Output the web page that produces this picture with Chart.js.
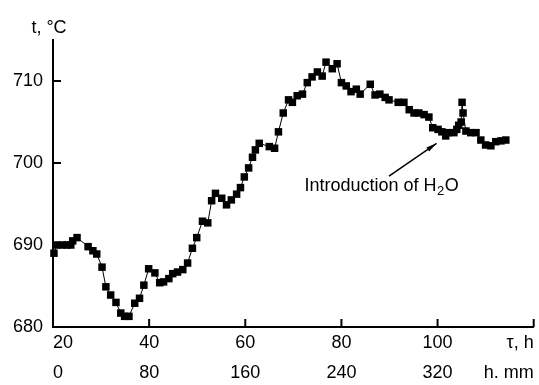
<!DOCTYPE html>
<html lang="en">
<head>
  <meta charset="UTF-8">
  <title>Temperature vs time</title>
  <script src="https://cdn.jsdelivr.net/npm/chart.js"></script>
  <style>
    html, body { margin: 0; padding: 0; background: #fff; }
  </style>
</head>
<body>
  <canvas id="chart" width="539" height="385"></canvas>

  <script>
    // time, h
    const tau = [20.2, 20.8, 21.9, 22.9, 23.7, 24.1, 25.0, 27.3, 28.3, 29.1,
      30.2, 31.0, 32.0, 33.1, 34.1, 34.9, 35.8, 37.0, 38.0, 38.9,
      39.9, 41.2, 42.2, 43.0, 44.1, 44.9, 45.9, 47.0, 48.0, 49.0,
      49.9, 51.1, 52.2, 53.0, 53.8, 55.1, 56.1, 57.1, 58.2, 59.0,
      59.8, 60.7, 61.5, 62.1, 62.9, 65.0, 66.1, 66.9, 67.9, 69.0,
      69.8, 70.8, 71.9, 72.9, 73.9, 75.0, 76.0, 76.8, 78.1, 79.1,
      80.0, 81.0, 82.0, 83.1, 83.9, 86.0, 87.0, 88.0, 89.1, 89.9,
      91.8, 93.0, 94.1, 95.1, 96.1, 97.2, 98.2, 99.0, 100.1, 100.9,
      101.7, 102.2, 103.4, 104.0, 104.4, 104.9, 105.1, 105.3, 105.9, 106.9,
      108.0, 109.0, 110.0, 111.1, 112.1, 113.2, 114.2];
    // temperature, °C
    const temp = [689.0, 690.0, 690.0, 690.0, 690.0, 690.5, 690.9, 689.8, 689.3, 688.9,
      687.3, 684.9, 683.9, 683.0, 681.7, 681.3, 681.3, 682.9, 683.5, 685.1,
      687.1, 686.6, 685.4, 685.5, 685.9, 686.5, 686.7, 687.0, 687.8, 689.6,
      690.9, 692.9, 692.7, 695.4, 696.3, 695.7, 694.9, 695.5, 696.2, 697.0,
      698.3, 699.4, 700.7, 701.6, 702.4, 702.0, 701.8, 703.8, 706.1, 707.7,
      707.4, 708.2, 708.4, 709.8, 710.5, 711.1, 710.6, 712.3, 711.5, 712.1,
      709.8, 709.4, 708.7, 709.0, 708.4, 709.6, 708.3, 708.4, 708.0, 707.7,
      707.4, 707.4, 706.5, 706.1, 706.1, 705.9, 705.6, 704.3, 704.1, 703.8,
      703.3, 703.7, 703.7, 704.1, 704.6, 705.0, 707.4, 706.1, 703.9, 703.7,
      703.7, 702.8, 702.2, 702.1, 702.6, 702.7, 702.8];

    // axis ticks
    const tauTicks = [20, 40, 60, 80, 100, 120];
    const tauLabels = ['20', '40', '60', '80', '100', 'τ, h'];
    const hLabels = ['0', '80', '160', '240', '320', 'h. mm'];
    const tempTicks = [680, 690, 700, 710];

    // annotation: text anchor and arrow (data units)
    const noteText = ['Introduction of H', '2', 'O'];
    const noteAt = { x: 72.3, y: 696.6 };
    const arrowFrom = { x: 89.9, y: 698.4 };
    const arrowTo = { x: 99.8, y: 702.4 };

    if (tau.length !== temp.length) console.error('length mismatch', tau.length, temp.length);

    const FONT = '"Liberation Sans", Arial, sans-serif';

    // inward ticks, axis title and the arrow note
    const decor = {
      id: 'decor',
      afterDraw(chart) {
        const { ctx, chartArea } = chart;
        const xs = chart.scales.x, ys = chart.scales.y;
        ctx.save();
        ctx.strokeStyle = '#000';
        ctx.fillStyle = '#000';
        ctx.lineWidth = 2;

        tauTicks.forEach(v => {
          const px = xs.getPixelForValue(v);
          ctx.beginPath();
          ctx.moveTo(px, chartArea.bottom);
          ctx.lineTo(px, chartArea.bottom - 8);
          ctx.stroke();
        });
        tempTicks.forEach(v => {
          const py = ys.getPixelForValue(v);
          ctx.beginPath();
          ctx.moveTo(chartArea.left, py);
          ctx.lineTo(chartArea.left + 8, py);
          ctx.stroke();
        });

        // y axis title
        ctx.font = '18px ' + FONT;
        ctx.textAlign = 'center';
        ctx.textBaseline = 'alphabetic';
        ctx.fillText('t, °C', 49, 33);

        // note text with subscript
        ctx.textAlign = 'left';
        let x = xs.getPixelForValue(noteAt.x);
        const base = ys.getPixelForValue(noteAt.y);
        ctx.font = '18px ' + FONT;
        ctx.fillText(noteText[0], x, base);
        x += ctx.measureText(noteText[0]).width;
        ctx.font = '13px ' + FONT;
        ctx.fillText(noteText[1], x + 0.5, base + 4);
        x += ctx.measureText(noteText[1]).width + 1;
        ctx.font = '18px ' + FONT;
        ctx.fillText(noteText[2], x, base);

        // arrow
        const x0 = xs.getPixelForValue(arrowFrom.x), y0 = ys.getPixelForValue(arrowFrom.y);
        const x1 = xs.getPixelForValue(arrowTo.x), y1 = ys.getPixelForValue(arrowTo.y);
        const ang = Math.atan2(y1 - y0, x1 - x0);
        ctx.lineWidth = 1.5;
        ctx.beginPath();
        ctx.moveTo(x0, y0);
        ctx.lineTo(x1, y1);
        ctx.stroke();
        ctx.beginPath();
        ctx.moveTo(x1, y1);
        ctx.lineTo(x1 - 11 * Math.cos(ang - 0.22), y1 - 11 * Math.sin(ang - 0.22));
        ctx.lineTo(x1 - 11 * Math.cos(ang + 0.22), y1 - 11 * Math.sin(ang + 0.22));
        ctx.closePath();
        ctx.fill();
        ctx.restore();
      }
    };

    new Chart(document.getElementById('chart'), {
      type: 'scatter',
      data: {
        datasets: [{
          data: tau.map((t, i) => ({ x: t, y: temp[i] })),
          showLine: true,
          borderColor: '#000',
          borderWidth: 1,
          backgroundColor: '#000',
          pointStyle: 'rect',
          pointRadius: 5.3,
          pointBorderWidth: 0,
          tension: 0,
          clip: false
        }]
      },
      options: {
        responsive: false,
        animation: false,
        devicePixelRatio: 1,
        layout: { padding: { left: 0, right: 4, top: 40, bottom: 0 } },
        plugins: {
          legend: { display: false },
          tooltip: { enabled: false }
        },
        scales: {
          x: {
            type: 'linear',
            min: 20,
            max: 120,
            afterBuildTicks: s => { s.ticks = tauTicks.map(v => ({ value: v })); },
            afterFit: s => { s.height = 58; },
            grid: { display: false, drawTicks: false },
            border: { display: true, color: '#000', width: 2 },
            ticks: {
              align: 'inner',
              maxRotation: 0,
              autoSkip: false,
              padding: 1,
              color: '#000',
              font: { family: FONT, size: 18, lineHeight: 1.65 },
              callback: v => {
                const i = tauTicks.indexOf(v);
                return i < 0 ? '' : [tauLabels[i], hLabels[i]];
              }
            }
          },
          y: {
            min: 680,
            max: 715,
            afterBuildTicks: s => { s.ticks = tempTicks.map(v => ({ value: v })); },
            afterFit: s => { s.width = 53; },
            grid: { display: false, drawTicks: false },
            border: { display: true, color: '#000', width: 2 },
            ticks: {
              padding: 10,
              color: '#000',
              font: { family: FONT, size: 18 }
            }
          }
        }
      },
      plugins: [decor]
    });
  </script>
</body>
</html>
